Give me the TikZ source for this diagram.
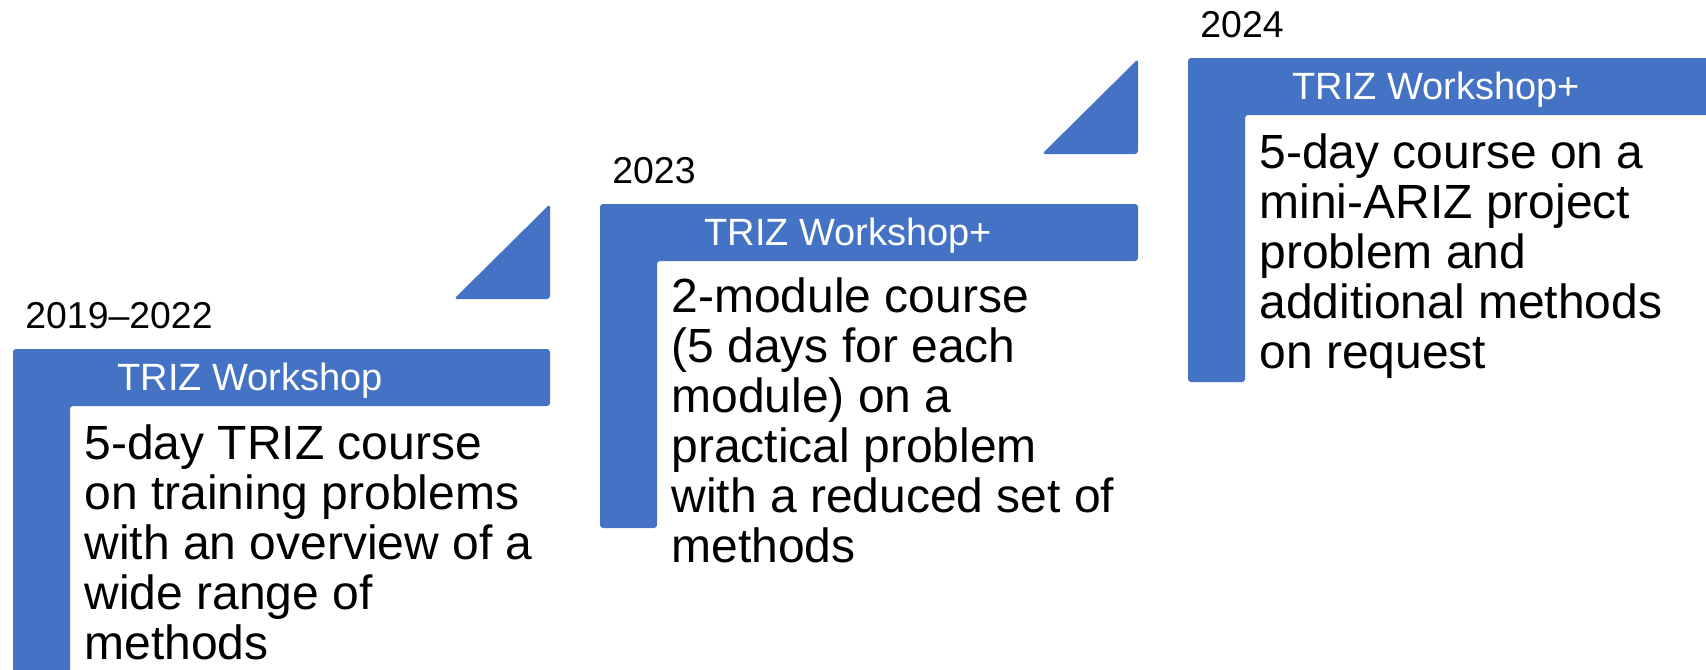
\documentclass[tikz,border=0pt]{standalone}
\usepackage{fontspec}
\setmainfont{Liberation Sans}
\definecolor{stepblue}{HTML}{4472C4}
\tikzset{
	stepbar/.style={fill=stepblue, rounded corners=1.5pt},
	stepyear/.style={anchor=base west, inner sep=0pt, font=\fontsize{18.7}{20}\selectfont},
	steptitle/.style={anchor=base west, inner sep=0pt, text=white, font=\fontsize{19}{22}\selectfont},
	% anchored at the baseline of the last line
	stepbody/.style={anchor=base west, inner sep=0pt, align=left, font=\fontsize{24}{25}\selectfont},
}

\begin{document}
\begin{tikzpicture}[x=0.5pt, y=-0.5pt]
	\useasboundingbox (0,0) rectangle (1706,669);

	% 2019--2022
	\begin{scope}[shift={(13,349)}]
		\coordinate (o1) at (0,0);
		\fill[stepbar] (0,0) -- (537,0) -- (537,57) -- (57,57) -- (57,324) -- (0,324) -- cycle;
		\node[stepyear] (y1) at (12,-21) {2019–2022};
		\node[steptitle] (t1) at (104,41) {TRIZ Workshop};
		\node[stepbody] (b1) at (71,310) {5-day TRIZ course\\on training problems\\with an overview of a\\wide range of\\methods};
	\end{scope}

	% 2023
	\begin{scope}[shift={(600,204)}]
		\coordinate (o2) at (0,0);
		\fill[stepbar] (-146,95) -- (-50,0) -- (-50,95) -- cycle;
		\fill[stepbar] (0,0) -- (538,0) -- (538,57) -- (57,57) -- (57,324) -- (0,324) -- cycle;
		\node[stepyear] (y2) at (12,-21) {2023};
		\node[steptitle] (t2) at (104,41) {TRIZ Workshop+};
		\node[stepbody] (b2) at (71,358) {2-module course\\(5 days for each\\module) on a\\practical problem\\with a reduced set of\\methods};
	\end{scope}

	% 2024
	\begin{scope}[shift={(1188,58)}]
		\coordinate (o3) at (0,0);
		\fill[stepbar] (-146,96) -- (-50,1) -- (-50,96) -- cycle;
		\fill[stepbar] (0,0) -- (540,0) -- (540,57) -- (57,57) -- (57,324) -- (0,324) -- cycle;
		\node[stepyear] (y3) at (12,-21) {2024};
		\node[steptitle] (t3) at (104,41) {TRIZ Workshop+};
		\node[stepbody] (b3) at (71,310) {5-day course on a\\mini-ARIZ project\\problem and\\additional methods\\on request};
	\end{scope}
\end{tikzpicture}
\end{document}
